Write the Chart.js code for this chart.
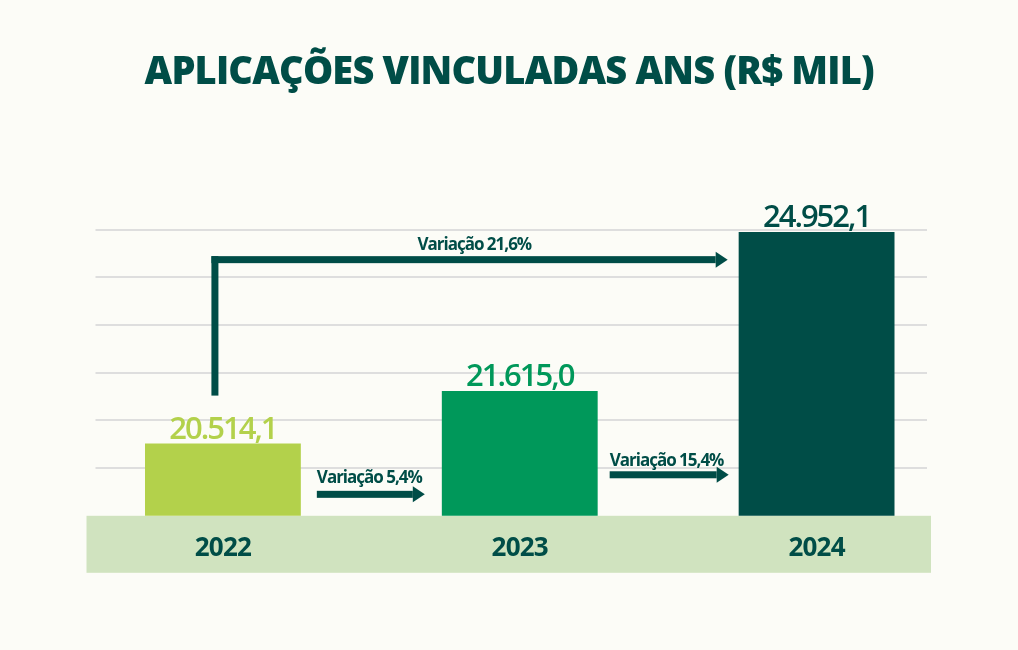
<!DOCTYPE html>
<html>
<head>
<meta charset="utf-8">
<script src="https://cdn.jsdelivr.net/npm/chart.js@4.4.1/dist/chart.umd.min.js"></script>
<style>
  html, body { margin: 0; padding: 0; background: #fcfcf7; }
  #wrap { width: 1018px; height: 650px; position: relative; }
</style>
</head>
<body>
<div id="wrap"><canvas id="c"></canvas></div>
<script>
// ---- data ----
const categories = ['2022', '2023', '2024'];
const values = [20514.1, 21615.0, 24952.1];
const valueLabels = ['20.514,1', '21.615,0', '24.952,1'];
const variationLabels = ['Variação 5,4%', 'Variação 15,4%', 'Variação 21,6%'];
const yTicks = [19000, 20000, 21000, 22000, 23000, 24000, 25000];

const titleText = 'APLICAÇÕES VINCULADAS ANS (R$ MIL)';
const barColors = ['#b3d14b', '#00985a', '#004d47'];
const dark = '#004d47';

const decor = {
  id: 'decor',
  beforeDraw(chart) {
    const { ctx, chartArea: a, scales: { y } } = chart;
    ctx.save();
    // grid lines
    ctx.strokeStyle = '#dedede';
    ctx.lineWidth = 2;
    yTicks.forEach(v => {
      if (v === y.min) return;
      const py = Math.round(y.getPixelForValue(v));
      ctx.beginPath();
      ctx.moveTo(a.left + 21, py);
      ctx.lineTo(a.right - 38, py);
      ctx.stroke();
    });
    // category band
    ctx.fillStyle = '#d0e3bf';
    ctx.fillRect(a.left + 12, a.bottom, (a.right - 34) - (a.left + 12), 57);
    ctx.restore();
    // tighter tracking for title and axis labels
    ctx.letterSpacing = '-0.8px';
  },
  beforeDatasetsDraw(chart) {
    chart.ctx.letterSpacing = '0px';
  },
  afterDatasetsDraw(chart) {
    const { ctx, scales: { y } } = chart;
    const bars = chart.getDatasetMeta(0).data;
    ctx.save();
    // value labels
    ctx.textAlign = 'center';
    ctx.textBaseline = 'alphabetic';
    ctx.font = '600 31px "Open Sans"';
    ctx.letterSpacing = '-2px';
    bars.forEach((b, i) => {
      ctx.fillStyle = barColors[i];
      ctx.fillText(valueLabels[i], b.x, b.y - 5);
    });

    const arrow = (x1, x2, py) => {
      const t = 7, hl = 12, hh = 8;
      ctx.fillStyle = dark;
      ctx.fillRect(x1, py - t / 2, x2 - hl - x1, t);
      ctx.beginPath();
      ctx.moveTo(x2 - hl, py - hh);
      ctx.lineTo(x2, py);
      ctx.lineTo(x2 - hl, py + hh);
      ctx.closePath();
      ctx.fill();
    };
    const w = bars[0].width;
    ctx.font = '700 17px "Open Sans"';
    ctx.letterSpacing = '-1px';
    ctx.fillStyle = dark;
    // arrow 2022 -> 2023
    const yA = y.getPixelForValue(19450);
    const xA1 = bars[0].x + w / 2 + 16, xA2 = bars[1].x - w / 2 - 17;
    arrow(xA1, xA2, yA);
    ctx.textAlign = 'left';
    ctx.fillText(variationLabels[0], xA1, yA - 11);
    // arrow 2023 -> 2024
    const yB = y.getPixelForValue(19860);
    const xB1 = bars[1].x + w / 2 + 12, xB2 = bars[2].x - w / 2 - 10;
    arrow(xB1, xB2, yB);
    ctx.fillText(variationLabels[1], xB1, yB - 9);
    // elbow arrow 2022 -> 2024
    const xV = bars[0].x - 8;
    const yTop = y.getPixelForValue(24370), yBot = y.getPixelForValue(21520);
    ctx.fillRect(xV - 3.5, yTop - 3.5, 7, yBot - yTop + 3.5);
    const xC2 = bars[2].x - w / 2 - 11;
    arrow(xV - 3.5, xC2, yTop);
    ctx.textAlign = 'center';
    ctx.fillText(variationLabels[2], (xV + xC2) / 2 + 3, yTop - 10);
    ctx.restore();
  }
};

new Chart(document.getElementById('c'), {
  type: 'bar',
  data: {
    labels: categories,
    datasets: [{
      data: values,
      backgroundColor: barColors,
      borderWidth: 0,
      categoryPercentage: 1,
      barPercentage: 0.525
    }]
  },
  options: {
    responsive: true,
    maintainAspectRatio: false,
    animation: false,
    layout: { padding: { left: 53.5, right: 53, top: 0, bottom: 77 } },
    plugins: {
      legend: { display: false },
      tooltip: { enabled: false },
      title: {
        display: true,
        text: titleText,
        color: dark,
        font: { family: '"Open Sans"', size: 38, weight: '800', lineHeight: 1.2 },
        padding: { top: 50, bottom: 134 }
      }
    },
    scales: {
      x: {
        grid: { display: false },
        border: { display: false },
        ticks: {
          color: dark,
          padding: 9,
          font: { family: '"Open Sans"', size: 26, weight: '700', lineHeight: 1.2 }
        }
      },
      y: {
        display: true,
        min: 19000,
        max: 25000,
        grid: { display: false },
        border: { display: false },
        ticks: { display: false, stepSize: 1000 },
        afterFit(scale) { scale.width = 21; }
      }
    }
  },
  plugins: [decor]
});
</script>
</body>
</html>
